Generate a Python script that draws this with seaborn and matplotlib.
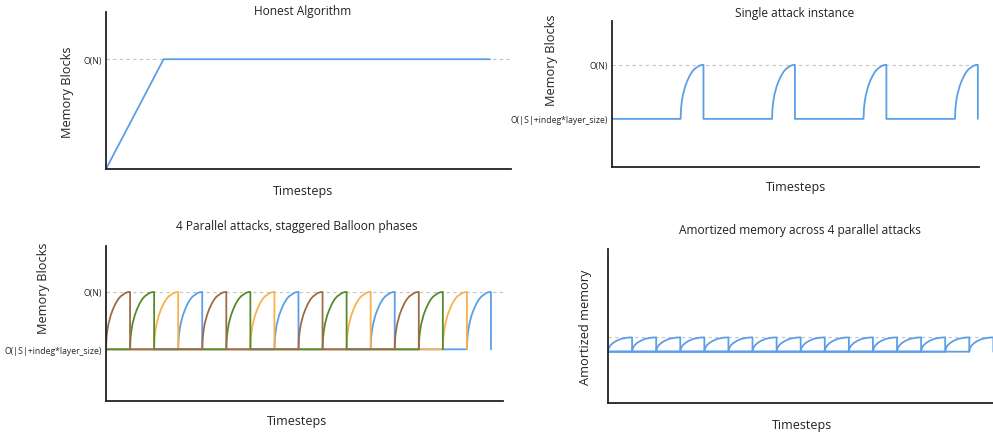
import numpy as np
import pandas as pd
import seaborn as sns
import matplotlib.pyplot as plt

# levels (arbitrary units): O(|S|+indeg*layer_size) and O(N)
low_level = 1.0
high_level = 2.0

# honest algorithm: ramp up to O(N), then flat
honest_t = [0, 3, 20]
honest_mem = [0, 1, 1]

# parallel attacks: each Balloon phase lasts one timestep, one attack every 4 steps
attack_names = ["Attack 1", "Attack 2", "Attack 3", "Attack 4"]
attack_offsets = [0, 1, 2, 3]
attack_colors = ["#9b6c47", "#558b2f", "#f7b24a", "#5c9ee8"]
n_phases = 4
period = 4

# shape of one Balloon phase (fraction of the way from low to O(N))
rise_t = [0, 0.02, 0.05, 0.1, 0.2, 0.3, 0.4, 0.5, 0.6, 0.7, 0.8, 0.9, 1.0]
rise_frac = [0, 0.2, 0.31, 0.44, 0.6, 0.71, 0.8, 0.87, 0.92, 0.95, 0.98, 0.995, 1.0]

blue = "#5c9ee8"
dash_col = "#c4c4c4"
low_label = "O(|S|+indeg*layer_size)"


def attack_path(offset):
    xs, ys = [], []
    if offset > 0:
        xs += [0]
        ys += [low_level]
    for k in range(n_phases):
        start = offset + k * period
        xs += [start + t for t in rise_t]
        ys += [low_level + (high_level - low_level) * f for f in rise_frac]
        xs += [start + 1]
        ys += [low_level]
        if k < n_phases - 1:
            xs += [start + period]
            ys += [low_level]
    return xs, ys


rows = []
for name, off in zip(attack_names, attack_offsets):
    xs, ys = attack_path(off)
    for x, y in zip(xs, ys):
        rows.append({"attack": name, "t": x, "mem": y,
                     "amort": low_level + (y - low_level) / 4})
df = pd.DataFrame(rows)

sns.set_style("white")
plt.rcParams["font.family"] = ["Open Sans", "DejaVu Sans"]

W, H = 993, 435
fig = plt.figure(figsize=(W / 100, H / 100), dpi=100)


def add_ax(l, r, t, b):
    return fig.add_axes([l / W, 1 - b / H, (r - l) / W, (b - t) / H])


def style(ax):
    sns.despine(ax=ax)
    for s in ["left", "bottom"]:
        ax.spines[s].set_color("#222222")
        ax.spines[s].set_linewidth(1.3)
    ax.tick_params(length=0, labelsize=6.2, pad=3)
    ax.set_xticks([])
    ax.set_xlabel("")
    ax.set_ylabel("")


def ftext(x, y, s, **kw):
    fig.text(x / W, 1 - y / H, s, ha="center", va="center", color="#222222", **kw)


# Honest algorithm
ax1 = add_ax(106, 511, 13, 170)
ax1.axhline(1, color=dash_col, ls=(0, (3, 3)), lw=0.8, zorder=0)
sns.lineplot(x=honest_t, y=honest_mem, ax=ax1, color=blue, lw=1.3)
ax1.set_xlim(0, 21.1)
ax1.set_ylim(0, 1.43)
ax1.set_yticks([1], ["O(N)"])
style(ax1)

# Single attack instance
ax2 = add_ax(612, 979, 22, 168)
ax2.axhline(high_level, color=dash_col, ls=(0, (3, 3)), lw=0.8, zorder=0)
single = df[df["attack"] == "Attack 4"]
sns.lineplot(data=single, x="t", y="mem", ax=ax2, color=blue, lw=1.3,
             sort=False, estimator=None)
ax2.set_xlim(0, 16.05)
ax2.set_ylim(0.11, 2.81)
ax2.set_yticks([low_level, high_level], [low_label, "O(N)"])
style(ax2)

# 4 parallel attacks
ax3 = add_ax(106, 503, 247, 402)
ax3.axhline(high_level, color=dash_col, ls=(0, (3, 3)), lw=0.8, zorder=0)
sns.lineplot(data=df, x="t", y="mem", hue="attack", ax=ax3, lw=1.3,
             hue_order=attack_names[::-1], palette=dict(zip(attack_names, attack_colors)),
             sort=False, estimator=None, legend=False)
ax3.set_xlim(0, 16.5)
ax3.set_ylim(0.1, 2.8)
ax3.set_yticks([low_level, high_level], [low_label, "O(N)"])
style(ax3)

# Amortized memory
ax4 = add_ax(608, 1003, 250, 404)
ax4.axhline(low_level + (high_level - low_level) / 4, color=dash_col,
            ls=(0, (3, 3)), lw=0.8, zorder=0)
sns.lineplot(data=df, x="t", y="amort", units="attack", ax=ax4, color=blue,
             lw=1.3, sort=False, estimator=None)
ax4.set_xlim(0, 16.4)
ax4.set_ylim(0.1, 2.8)
ax4.set_yticks([])
style(ax4)

# titles and axis labels
ftext(303, 12, "Honest Algorithm", fontsize=8.6)
ftext(795, 14, "Single attack instance", fontsize=8.6)
ftext(297, 227, "4 Parallel attacks, staggered Balloon phases", fontsize=8.6)
ftext(800, 231, "Amortized memory across 4 parallel attacks", fontsize=8.6)
ftext(303, 192, "Timesteps", fontsize=9)
ftext(796, 188, "Timesteps", fontsize=9)
ftext(297, 422, "Timesteps", fontsize=9)
ftext(802, 426, "Timesteps", fontsize=9)
ftext(67, 92, "Memory Blocks", fontsize=9.2, rotation=90)
ftext(552, 60, "Memory Blocks", fontsize=9.2, rotation=90)
ftext(43, 288, "Memory Blocks", fontsize=9.2, rotation=90)
ftext(586, 327, "Amortized memory", fontsize=9.2, rotation=90)

fig.savefig("out.png", dpi=100, facecolor="white")
